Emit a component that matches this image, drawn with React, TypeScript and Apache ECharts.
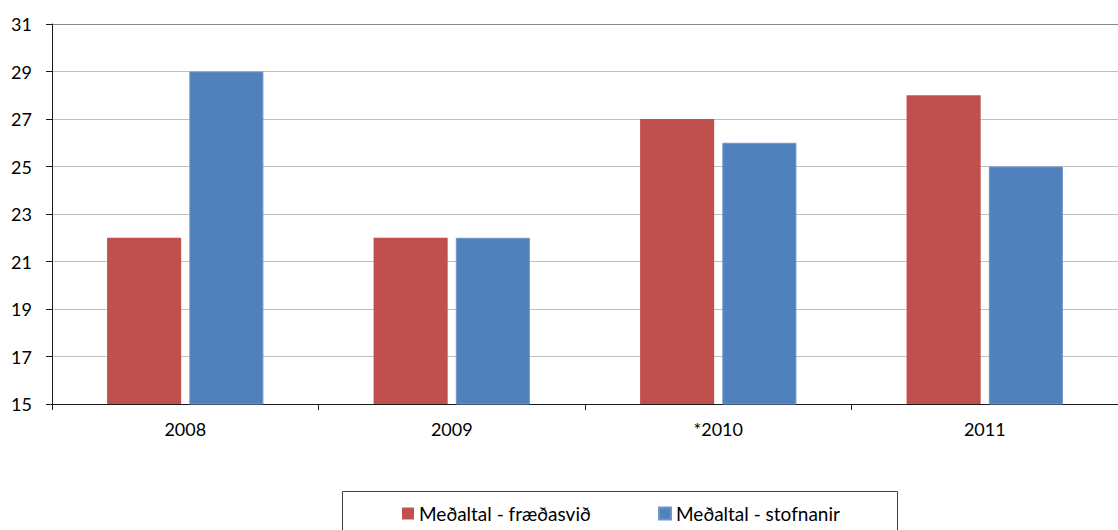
import React, { useEffect, useRef } from "react";
import * as echarts from "echarts";

const categories = ["2008", "2009", "*2010", "2011"];
const seriesNames = ["Meðaltal - fræðasvið", "Meðaltal - stofnanir"];
const fraedasvid = [22, 22, 27, 28];
const stofnanir = [29, 22, 26, 25];
const yMin = 15;
const yMax = 31;
const yInterval = 2;

const FONT = "Lato";

export default function App() {
  const ref = useRef<HTMLDivElement>(null);
  useEffect(() => {
    const chart = echarts.init(ref.current!, null, { renderer: "svg" });
    const gridColors = ["#bfbfbf", "#bfbfbf", "#bfbfbf", "#bfbfbf", "#bfbfbf", "#bfbfbf", "#bfbfbf", "#bfbfbf", "#868686"];
    const legendText = { fontSize: 19, color: "#000", fontFamily: FONT };
    chart.setOption({
      animation: false,
      backgroundColor: "#ffffff",
      textStyle: { fontFamily: FONT, color: "#000" },
      grid: { left: 52, right: -1, top: 24, bottom: 126, containLabel: false },
      xAxis: {
        type: "category",
        data: categories,
        axisLine: { lineStyle: { color: "#1a1a1a", width: 1 } },
        axisTick: { show: true, length: 6, alignWithLabel: false, lineStyle: { color: "#1a1a1a" } },
        axisLabel: { fontSize: 18, color: "#000", margin: 16, fontFamily: FONT },
      },
      yAxis: {
        type: "value",
        min: yMin,
        max: yMax,
        interval: yInterval,
        axisLine: { show: true, lineStyle: { color: "#1a1a1a", width: 1 } },
        axisTick: { show: true, length: 6, lineStyle: { color: "#1a1a1a" } },
        axisLabel: { fontSize: 18, color: "#000", margin: 20, fontFamily: FONT },
        splitLine: { show: true, lineStyle: { color: gridColors, width: 1 } },
      },
      legend: [
        {
          data: [seriesNames[0]],
          left: 402,
          top: 504,
          padding: 0,
          itemWidth: 12,
          itemHeight: 12,
          itemGap: 0,
          icon: "rect",
          textStyle: legendText,
        },
        {
          data: [seriesNames[1]],
          left: 658,
          top: 504,
          padding: 0,
          itemWidth: 12,
          itemHeight: 12,
          itemGap: 0,
          icon: "rect",
          textStyle: legendText,
        },
      ],
      graphic: [
        {
          type: "rect",
          shape: { x: 342.5, y: 491.5, width: 555, height: 60 },
          style: { fill: "none", stroke: "#3f3f3f", lineWidth: 1 },
          silent: true,
        },
      ],
      series: [
        {
          name: seriesNames[0],
          type: "bar",
          data: fraedasvid,
          barWidth: "27.8%",
          barGap: "11%",
          itemStyle: { color: "#C0504D" },
        },
        {
          name: seriesNames[1],
          type: "bar",
          data: stofnanir,
          barWidth: "27.8%",
          barGap: "11%",
          itemStyle: { color: "#4F81BD", borderColor: "#7396c8", borderWidth: 1 },
        },
      ],
    });
    return () => chart.dispose();
  }, []);
  return (
    <div
      ref={ref}
      style={{ position: "absolute", left: 0, top: 0, width: 1118, height: 530 }}
    />
  );
}
